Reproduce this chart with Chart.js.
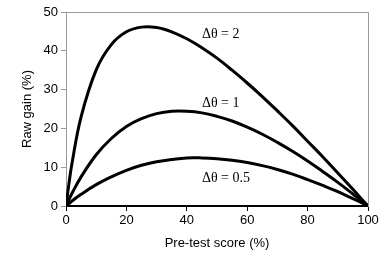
<!DOCTYPE html>
<html>
<head>
<meta charset="utf-8">
<script src="https://cdn.jsdelivr.net/npm/chart.js@4/dist/chart.umd.min.js"></script>
<style>
  html, body { margin: 0; padding: 0; background: #fff; }
  #wrap { width: 386px; height: 268px; }
</style>
</head>
<body>
<div id="wrap"><canvas id="gainChart" width="386" height="268"></canvas></div>
<script>
// Pre-test score (%) sample positions
const preTest = [0, 1, 2, 5, 10, 15, 20, 25, 30, 35, 40, 45, 50, 55, 60, 65, 70, 75, 80, 85, 90, 95, 98, 100];

// Raw gain (%)
const gainDelta2 = [0, 5.9, 11.1, 23.0, 35.1, 41.6, 44.9, 46.1, 46.0, 44.9, 43.1, 40.8, 38.1, 35.0, 31.7, 28.2, 24.5, 20.7, 16.7, 12.7, 8.5, 4.3, 1.7, 0];
const gainDelta1 = [0, 1.7, 3.3, 7.5, 13.2, 17.4, 20.5, 22.5, 23.8, 24.4, 24.4, 24.0, 23.1, 21.9, 20.3, 18.5, 16.4, 14.1, 11.6, 8.9, 6.1, 3.1, 1.3, 0];
const gainDelta05 = [0, 0.6, 1.3, 3.0, 5.5, 7.5, 9.2, 10.5, 11.4, 12.0, 12.4, 12.4, 12.2, 11.8, 11.2, 10.4, 9.4, 8.2, 6.8, 5.3, 3.7, 1.9, 0.8, 0];

const xTicks = [0, 20, 40, 60, 80, 100];
const yTicks = [0, 10, 20, 30, 40, 50];

// Curve labels and where they sit (data coordinates)
const curveLabels = ['\u0394\u03b8 = 2', '\u0394\u03b8 = 1', '\u0394\u03b8 = 0.5'];
const labelX = [45, 45, 45];
const labelY = [44.3, 26.5, 7.2];

function toPoints(values) {
    return preTest.map((x, i) => ({ x: x, y: values[i] }));
}

function curve(values) {
    return {
        data: toPoints(values),
        borderColor: '#000',
        borderWidth: 3,
        pointRadius: 0,
        fill: false,
        tension: 0.4
    };
}

// Gray frame round the plot area plus the curve labels
const framePlugin = {
    id: 'frame',
    beforeDatasetsDraw(chart) {
        const a = chart.chartArea;
        const ctx = chart.ctx;
        ctx.save();
        ctx.strokeStyle = '#9a9a9a';
        ctx.lineWidth = 1;
        ctx.strokeRect(a.left + 0.5, a.top + 0.5, a.right - a.left, a.bottom - a.top);
        ctx.restore();
    },
    afterDatasetsDraw(chart) {
        const ctx = chart.ctx;
        const xs = chart.scales.x;
        const ys = chart.scales.y;
        ctx.save();
        ctx.fillStyle = '#000';
        ctx.font = '14px "Liberation Serif", "DejaVu Serif", serif';
        ctx.textBaseline = 'middle';
        ctx.textAlign = 'left';
        curveLabels.forEach((t, i) => {
            ctx.fillText(t, xs.getPixelForValue(labelX[i]), ys.getPixelForValue(labelY[i]));
        });
        // black x axis line on top
        const a = chart.chartArea;
        ctx.strokeStyle = '#000';
        ctx.lineWidth = 2;
        ctx.beginPath();
        ctx.moveTo(a.left, a.bottom);
        ctx.lineTo(a.right, a.bottom);
        ctx.stroke();
        ctx.restore();
    }
};

const tickFont = { family: '"Liberation Sans", Arial, sans-serif', size: 13 };

new Chart(document.getElementById('gainChart').getContext('2d'), {
    type: 'line',
    data: {
        datasets: [curve(gainDelta2), curve(gainDelta1), curve(gainDelta05)]
    },
    options: {
        responsive: false,
        animation: false,
        layout: { padding: { top: 12, right: 18, left: 16, bottom: 17 } },
        plugins: {
            legend: { display: false },
            tooltip: { enabled: false }
        },
        scales: {
            x: {
                type: 'linear',
                min: 0,
                max: 100,
                afterBuildTicks: s => { s.ticks = xTicks.map(v => ({ value: v })); },
                afterFit: s => { s.height = 45; },
                ticks: { color: '#000', font: tickFont, padding: 2, maxRotation: 0 },
                grid: { drawOnChartArea: false, drawTicks: true, tickLength: 5, color: '#000' },
                border: { display: false },
                title: {
                    display: true,
                    text: 'Pre-test score (%)',
                    color: '#000',
                    font: tickFont,
                    padding: { top: 4, bottom: 0 }
                }
            },
            y: {
                type: 'linear',
                min: 0,
                max: 50,
                afterBuildTicks: s => { s.ticks = yTicks.map(v => ({ value: v })); },
                afterFit: s => { s.width = 50; },
                ticks: { color: '#000', font: tickFont, padding: 3 },
                grid: { drawOnChartArea: false, drawTicks: true, tickLength: 5, color: '#9a9a9a' },
                border: { display: false },
                title: {
                    display: true,
                    text: 'Raw gain (%)',
                    color: '#000',
                    font: tickFont,
                    padding: { top: 4, bottom: 0 }
                }
            }
        }
    },
    plugins: [framePlugin]
});
</script>
</body>
</html>
